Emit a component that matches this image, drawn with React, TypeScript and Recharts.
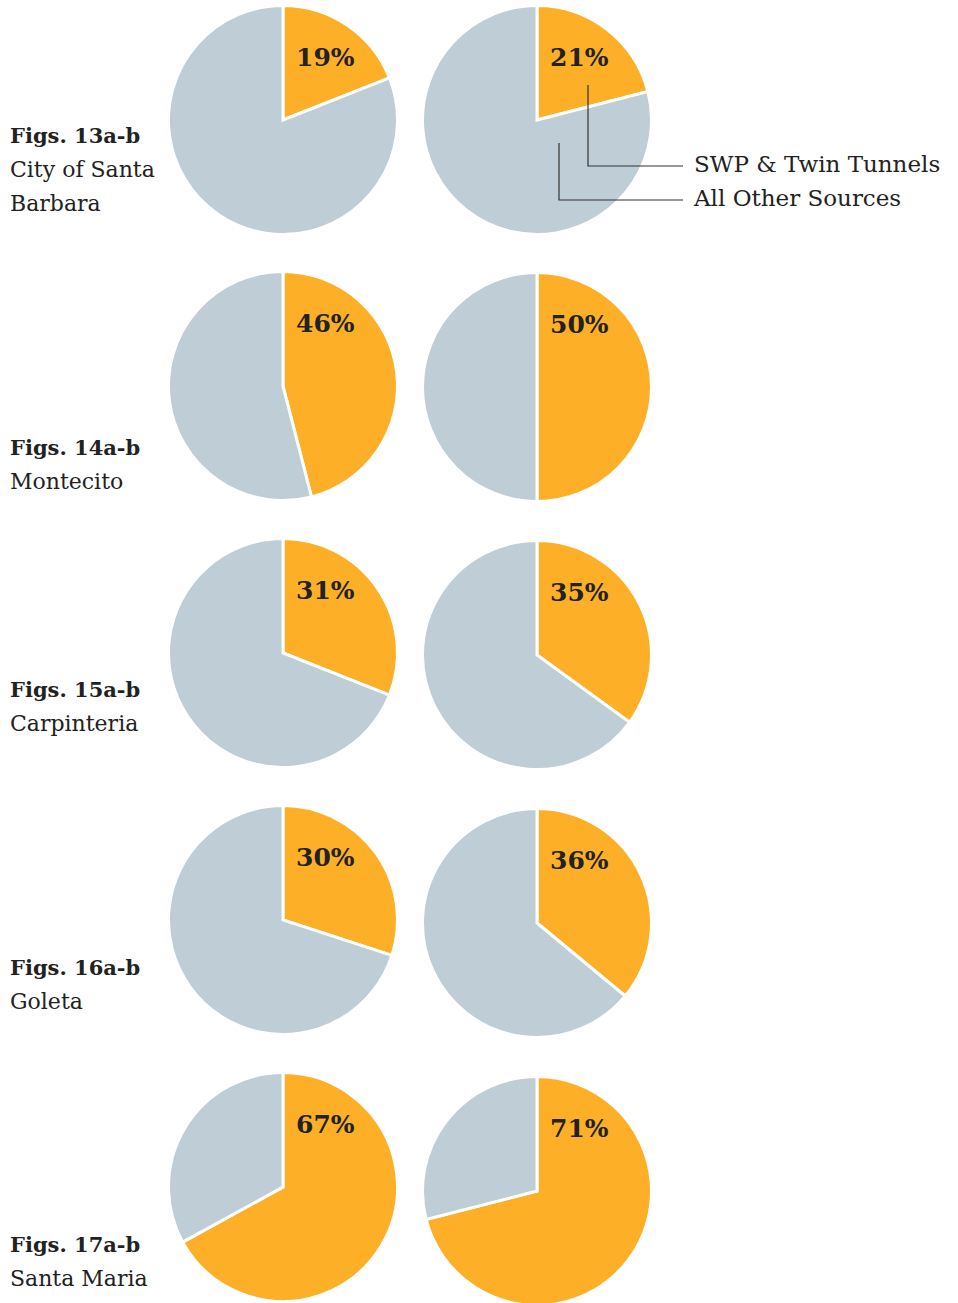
import React from 'react';
import { PieChart, Pie, Cell } from 'recharts';

const figLabels = ['Figs. 13a-b', 'Figs. 14a-b', 'Figs. 15a-b', 'Figs. 16a-b', 'Figs. 17a-b'];
const regionLines = [['City of Santa', 'Barbara'], ['Montecito'], ['Carpinteria'], ['Goleta'], ['Santa Maria']];
const swpShareA = [19, 46, 31, 30, 67];
const swpShareB = [21, 50, 35, 36, 71];
const seriesNames = ['SWP & Twin Tunnels', 'All Other Sources'];

const COLORS = ['#FDB027', '#BFCDD6'];
const FONT = '"DejaVu Serif", serif';
const W = 958;
const H = 1303;
const R = 114.5;
const colX = [283, 537];
const rowYA = [120, 386, 653, 920, 1187];
const rowYB = [120, 387, 655, 923, 1191];
const titleY = [137, 449, 691, 969, 1246];

const mk = (v: number) => [
  { name: seriesNames[0], value: v },
  { name: seriesNames[1], value: 100 - v },
];

const renderLabel = (props: any) => {
  if (props.index !== 0) return null;
  return (
    <text
      x={props.cx + 13}
      y={props.cy - 61}
      fill="#222"
      fontFamily={FONT}
      fontWeight="bold"
      fontSize={25}
      textAnchor="start"
      dominantBaseline="middle"
    >
      {props.value}%
    </text>
  );
};

export default function App() {
  const pies: React.ReactNode[] = [];
  swpShareA.forEach((v, i) => {
    [v, swpShareB[i]].forEach((val, j) => {
      pies.push(
        <Pie
          key={`p${i}-${j}`}
          data={mk(val)}
          dataKey="value"
          cx={colX[j]}
          cy={j === 0 ? rowYA[i] : rowYB[i]}
          outerRadius={R}
          innerRadius={0}
          startAngle={90}
          endAngle={-270}
          stroke="#ffffff"
          strokeWidth={3}
          label={renderLabel}
          labelLine={false}
          isAnimationActive={false}
        >
          {mk(val).map((_, k) => (
            <Cell key={k} fill={COLORS[k]} />
          ))}
        </Pie>
      );
    });
  });

  return (
    <div style={{ position: 'absolute', left: 0, top: 0, width: W, height: H, background: '#fff' }}>
      <PieChart width={W} height={H} margin={{ top: 0, right: 0, bottom: 0, left: 0 }}>
        {pies}
      </PieChart>
      <svg width={W} height={H} style={{ position: 'absolute', left: 0, top: 0, pointerEvents: 'none' }}>
        {figLabels.map((f, i) => (
          <g key={f}>
            <text x={10} y={titleY[i]} fontFamily={FONT} fontWeight="bold" fontSize={21} fill="#222" dominantBaseline="middle">
              {f}
            </text>
            {regionLines[i].map((ln, k) => (
              <text key={k} x={10} y={titleY[i] + 34 * (k + 1)} fontFamily={FONT} fontSize={22} fill="#222" dominantBaseline="middle">
                {ln}
              </text>
            ))}
          </g>
        ))}
        <polyline points="588,85 588,166 683,166" fill="none" stroke="#333" strokeWidth={1.2} />
        <polyline points="559,143 559,200 683,200" fill="none" stroke="#333" strokeWidth={1.2} />
        <text x={694} y={166} fontFamily={FONT} fontSize={23} fill="#222" dominantBaseline="middle">{seriesNames[0]}</text>
        <text x={694} y={200} fontFamily={FONT} fontSize={23} fill="#222" dominantBaseline="middle">{seriesNames[1]}</text>
      </svg>
    </div>
  );
}
